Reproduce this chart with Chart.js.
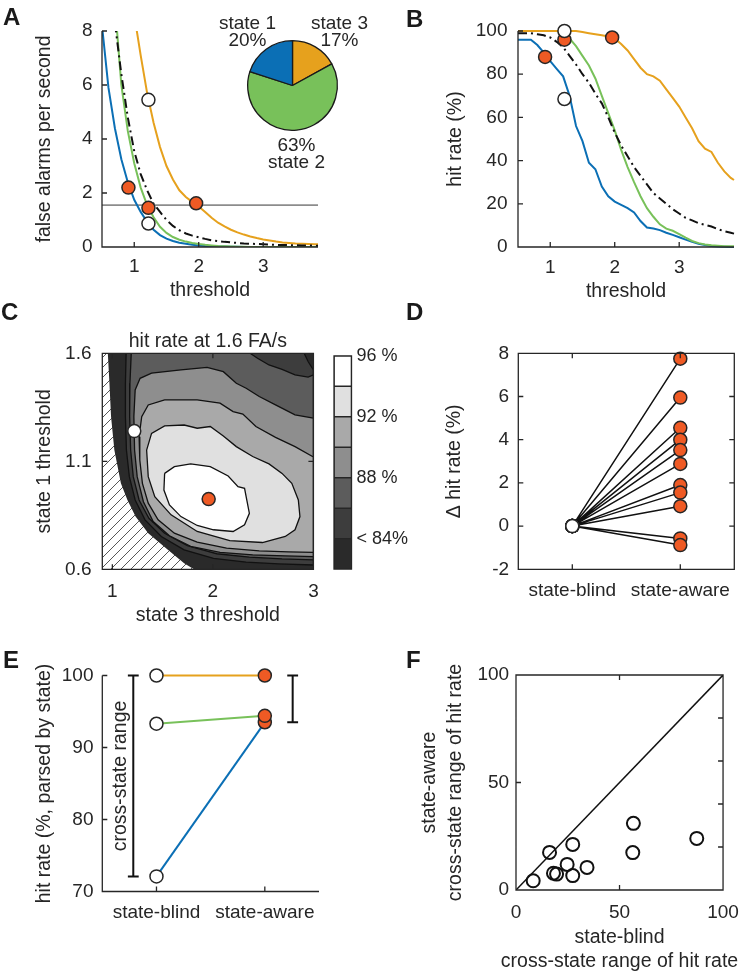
<!DOCTYPE html>
<html>
<head>
<meta charset="utf-8"/>
<script src="https://cdn.jsdelivr.net/npm/chart.js@4.4.1/dist/chart.umd.min.js"></script>
<style>
  body { margin: 0; background: #fff; }
  #fig { position: relative; width: 750px; height: 976px; overflow: hidden; font-family: "Liberation Sans", Arial, sans-serif; }
  #fig canvas { position: absolute; }
  .tag { position: absolute; font-size: 24px; line-height: 24px; font-weight: bold; color: #1a1a1a; }
</style>
</head>
<body>
<div id="fig">
  <canvas id="cA" width="375" height="305" style="left:0;top:0"></canvas>
  <canvas id="cB" width="375" height="305" style="left:375px;top:0"></canvas>
  <canvas id="cC" width="330" height="330" style="left:0;top:300px"></canvas>
  <canvas id="cBar" width="100" height="245" style="left:325px;top:340px"></canvas>
  <canvas id="cD" width="375" height="320" style="left:375px;top:300px"></canvas>
  <canvas id="cE" width="375" height="356" style="left:0;top:620px"></canvas>
  <canvas id="cF" width="375" height="356" style="left:375px;top:620px"></canvas>
  <canvas id="cPie" width="180" height="186" style="left:195px;top:0"></canvas>
  <div class="tag" style="left:3px;top:5px">A</div>
  <div class="tag" style="left:406px;top:7px">B</div>
  <div class="tag" style="left:1px;top:300px">C</div>
  <div class="tag" style="left:406px;top:300px">D</div>
  <div class="tag" style="left:3px;top:648px">E</div>
  <div class="tag" style="left:406px;top:648px">F</div>
</div>

<script>
// ---------- data ----------
// A + B: sweep of the detection threshold
const threshold = [0.5,0.6,0.7,0.8,0.9,1.0,1.1,1.2,1.3,1.4,1.5,1.6,1.7,1.8,1.9,2.0,2.1,2.2,2.3,2.4,2.5,2.6,2.7,2.8,2.9,3.0,3.1,3.2,3.3,3.4,3.5,3.6,3.7,3.8,3.85];
// false alarms per second (values above 8 run off the top of the axes)
const faState1 = [8.2,5.9,4.4,3.25,2.4,1.75,1.3,0.93,0.64,0.44,0.31,0.22,0.16,0.12,0.08,0.06,0.04,0.03,0.02,0.015,0.01,0.005,0,0,0,0,0,0,0,0,0,0,0,0,0];
const faState2 = [16,12,9,6.0,4.3,3.1,2.2,1.55,1.1,0.75,0.52,0.37,0.27,0.2,0.15,0.11,0.08,0.06,0.04,0.03,0.02,0.01,0.005,0,0,0,0,0,0,0,0,0,0,0,0];
const faState3 = [60,40,27,18,12,8.6,7.1,5.7,4.6,3.7,3.0,2.5,2.1,1.85,1.67,1.5,1.3,1.08,0.9,0.76,0.64,0.54,0.46,0.39,0.33,0.28,0.24,0.2,0.17,0.15,0.13,0.12,0.11,0.1,0.1];
const faAll    = [16,11,8.3,6.4,4.8,3.55,2.7,2.1,1.6,1.3,1.0,0.78,0.62,0.5,0.42,0.36,0.3,0.25,0.22,0.19,0.17,0.15,0.13,0.12,0.11,0.1,0.09,0.08,0.075,0.07,0.065,0.06,0.055,0.05,0.05];
const faTarget = 1.55;
const faBlindPts = [[1.22,5.45],[1.22,0.87]];
const faAwarePts = [[0.91,2.2],[1.22,1.45],[1.96,1.62]];
// hit rate (%)
const hitState1 = [96,96,96,93.5,90,86,82.5,79,70,56,49,39,36,28,23.5,21,19.5,18,16,12,9,8.6,7.8,6.6,5.6,4.5,3.4,2.4,1.5,0.9,0.5,0.2,0.1,0,0];
const hitState2 = [100,100,100,100,100,100,100,99,96.5,93,88.5,84,78,70,62,54,45,37,30,23.5,18,14,10.5,8.5,7.5,6,4.3,2.8,1.8,1.2,0.8,0.6,0.4,0.3,0.3];
const hitState3 = [100,100,100,100,100,100,100,100,100,100,99.5,99,98.5,98,97.5,96.5,94,91,87,83,80,79,77,73,69,65,60,55,49,45.5,44,39,35,32,31];
const hitAll    = [99,99,99,98.5,98,97,95,92.5,88.5,84.5,80,76,71,66.5,60,53,47,42,37,33,29,25,22.5,20,17.5,15.5,13.5,12.3,11,10.3,9.5,8.3,7.3,6.6,6.2];
const hitBlindPts = [[1.22,100],[1.22,68.5]];
const hitAwarePts = [[0.92,88],[1.22,96],[1.96,97]];
// pie: time spent in each state
const pieStates = ['state 3','state 2','state 1'];
const pieShare = [17,63,20];

// C: hit rate at 1.6 FA/s over (state 3 threshold, state 1 threshold)
const infeasible = [[0.9,1.6],[0.955,1.6],[0.971,1.461],[0.987,1.307],[1.02,1.152],[1.085,0.998],[1.15,0.921],[1.231,0.844],[1.357,0.767],[1.552,0.69],[1.714,0.628],[1.812,0.6],[0.9,0.6]];
const contour84 = [[1.137,1.6],[1.13,1.461],[1.13,1.307],[1.14,1.152],[1.169,1.029],[1.227,0.921],[1.325,0.829],[1.487,0.752],[1.714,0.69],[2.006,0.651],[2.331,0.633],[2.655,0.625],[3.0,0.62],[3.0,1.523],[2.947,1.562],[2.908,1.6]];
const contour86 = [[1.188,1.6],[1.175,1.461],[1.172,1.307],[1.182,1.152],[1.208,1.029],[1.266,0.921],[1.364,0.836],[1.52,0.767],[1.747,0.709],[2.039,0.672],[2.363,0.656],[2.688,0.648],[3.0,0.644],[3.0,1.5],[2.947,1.49],[2.817,1.5],[2.688,1.526],[2.558,1.546],[2.444,1.577],[2.37,1.6]];
const contour88 = [[3.0,1.3],[2.817,1.315],[2.623,1.361],[2.461,1.4],[2.331,1.438],[2.233,1.461],[2.104,1.515],[1.942,1.535],[1.682,1.523],[1.39,1.508],[1.276,1.484],[1.227,1.43],[1.214,1.307],[1.221,1.152],[1.247,1.029],[1.309,0.913],[1.406,0.821],[1.568,0.755],[1.779,0.706],[2.071,0.678],[2.396,0.667],[2.72,0.662],[3.0,0.659]];
const contour90 = [[3.0,1.12],[2.817,1.168],[2.623,1.211],[2.428,1.261],[2.298,1.319],[2.201,1.33],[2.071,1.369],[1.844,1.384],[1.52,1.384],[1.357,1.361],[1.292,1.307],[1.266,1.214],[1.273,1.106],[1.299,0.998],[1.357,0.906],[1.455,0.829],[1.617,0.767],[1.844,0.726],[2.136,0.698],[2.461,0.685],[2.753,0.681],[3.0,0.678]];
const contour92 = [[1.341,1.152],[1.39,1.229],[1.52,1.264],[1.714,1.268],[1.844,1.253],[1.974,1.261],[2.104,1.217],[2.233,1.168],[2.396,1.122],[2.558,1.088],[2.688,1.044],[2.785,0.998],[2.85,0.921],[2.866,0.844],[2.817,0.783],[2.72,0.752],[2.493,0.724],[2.168,0.733],[1.844,0.775],[1.584,0.852],[1.422,0.936],[1.357,1.029]];
const contour94 = [[1.52,1.044],[1.617,1.075],[1.779,1.088],[1.974,1.075],[2.152,1.032],[2.25,0.983],[2.315,0.975],[2.337,0.921],[2.363,0.859],[2.315,0.806],[2.201,0.775],[2.006,0.783],[1.844,0.803],[1.682,0.844],[1.568,0.898],[1.513,0.967]];
const cBlind = [1.218,1.24];
const cAware = [1.958,0.925];
const cbBounds = [82,84,86,88,90,92,94,96];
const cbTicks = [84,88,92,96];
const cbLabels = ['< 84%','88 %','92 %','96 %'];

// D: change in hit rate per subject
const groups = ['state-blind','state-aware'];
const dBlind = [0,0,0,0,0,0,0,0,0,0,0];
const dAware = [7.75,5.95,4.55,4.0,3.52,2.88,1.9,1.55,0.92,-0.57,-0.88];

// E: hit rate parsed by state (state 1, 2, 3)
const eBlind = [72.1,93.3,100];
const eAware = [93.5,94.4,100];

// F: cross-state range of hit rate per subject
const fBlind = [8.3,16.2,18.1,19.6,24.7,27.4,27.4,34.3,56.7,56.4,87.3];
const fAware = [4.3,17.5,7.8,7.4,11.9,21.2,6.7,10.5,31.0,17.4,24.0];

// ---------- style ----------
const ink = '#262626';
const blue = '#0b6fb5', green = '#78c15a', orange = '#e6a11d', aware = '#ef5a24';
const stateColor = [blue, green, orange];
const shade = ['#2a2a2a','#3d3d3d','#5c5c5c','#8e8e8e','#a9a9a9','#e0e0e0','#ffffff'];
const labelFont = '19.5px "Liberation Sans", Arial, sans-serif';

Chart.defaults.font.family = '"Liberation Sans", Arial, Helvetica, sans-serif';
Chart.defaults.font.size = 19;
Chart.defaults.color = ink;
Chart.defaults.animation = false;
Chart.defaults.events = [];
Chart.defaults.responsive = false;
Chart.defaults.plugins.legend.display = false;
Chart.defaults.plugins.tooltip.enabled = false;
Chart.defaults.elements.point.radius = 0;
Chart.defaults.elements.line.tension = 0;

// matlab-like axes: axis lines, optional box, inward ticks
const boxAxes = {
  id: 'boxAxes',
  beforeDatasetsDraw(chart, args, o) {
    if (!o.bg) return;
    const a = chart.chartArea;
    chart.ctx.save();
    chart.ctx.fillStyle = o.bg;
    chart.ctx.fillRect(a.left, a.top, a.right - a.left, a.bottom - a.top);
    chart.ctx.restore();
  },
  afterDatasetsDraw(chart, args, o) {
    const {ctx, chartArea: a} = chart;
    const sx = chart.scales.x, sy = chart.scales.y;
    const L = 5;
    ctx.save();
    ctx.strokeStyle = ink;
    ctx.lineWidth = 1.3;
    ctx.beginPath();
    if (o.box) {
      ctx.rect(a.left, a.top, a.right - a.left, a.bottom - a.top);
    } else {
      ctx.moveTo(a.left, a.top); ctx.lineTo(a.left, a.bottom); ctx.lineTo(a.right, a.bottom);
    }
    if (o.ticks !== false) {
      sx.ticks.forEach(t => {
        const p = sx.getPixelForValue(t.value);
        ctx.moveTo(p, a.bottom); ctx.lineTo(p, a.bottom - L);
        if (o.box) { ctx.moveTo(p, a.top); ctx.lineTo(p, a.top + L); }
      });
      sy.ticks.forEach(t => {
        const p = sy.getPixelForValue(t.value);
        ctx.moveTo(a.left, p); ctx.lineTo(a.left + L, p);
      });
      const right = o.rightTicks || (o.box ? sy.ticks.map(t => t.value) : []);
      right.forEach(v => {
        const p = sy.getPixelForValue(v);
        ctx.moveTo(a.right, p); ctx.lineTo(a.right - L, p);
      });
    }
    ctx.stroke();
    ctx.restore();
  }
};

// free text anchored to the plot area (title above, or lines below)
const areaText = {
  id: 'areaText',
  afterDraw(chart, args, o) {
    const {ctx, chartArea: a} = chart;
    ctx.save();
    ctx.font = labelFont;
    ctx.fillStyle = ink;
    ctx.textAlign = 'center';
    ctx.textBaseline = 'middle';
    o.lines.forEach(([text, dy]) => {
      const y = dy < 0 ? a.top + dy : a.bottom + dy;
      ctx.fillText(text, (a.left + a.right) / 2, y);
    });
    ctx.restore();
  }
};

// pie labels: name + share, offsets (px) from the pie centre
const pieLabelOffset = [[47,-57],[4,65],[-45,-57]];
const pieLabels = {
  id: 'pieLabels',
  afterDatasetsDraw(chart) {
    const {ctx} = chart;
    const arc = chart.getDatasetMeta(0).data[0];
    const ds = chart.data.datasets[0];
    ctx.save();
    ctx.font = '19px "Liberation Sans", Arial, sans-serif';
    ctx.fillStyle = ink;
    ctx.textAlign = 'center';
    ctx.textBaseline = 'alphabetic';
    chart.data.labels.forEach((name, i) => {
      const [dx, dy] = pieLabelOffset[i];
      const pct = ds.data[i] + '%';
      const lines = dy < 0 ? [name, pct] : [pct, name];
      lines.forEach((t, k) => ctx.fillText(t, arc.x + dx, arc.y + dy + k * 17));
    });
    ctx.restore();
  }
};

// E: position of the two range bars on the x axis
const rangeBlindX = 0.786, rangeAwareX = 2.257, capHalf = 0.05;
const rangeNote = {
  id: 'rangeNote',
  afterDatasetsDraw(chart) {
    const {ctx, scales: {x, y}} = chart;
    const px = x.getPixelForValue(rangeBlindX) - 13;
    const py = (y.getPixelForValue(Math.max(...eBlind)) + y.getPixelForValue(Math.min(...eBlind))) / 2;
    ctx.save();
    ctx.translate(px, py);
    ctx.rotate(-Math.PI / 2);
    ctx.font = labelFont;
    ctx.fillStyle = ink;
    ctx.textAlign = 'center';
    ctx.textBaseline = 'middle';
    ctx.fillText('cross-state range', 0, 0);
    ctx.restore();
  }
};

// ---------- helpers ----------
function axis(min, max, values, size, pad, title, fmt) {
  return {
    type: 'linear', min, max, bounds: 'data',
    grid: { display: false, drawTicks: false },
    border: { display: false },
    ticks: { autoSkip: false, maxRotation: 0, padding: pad, callback: fmt || (v => String(v)) },
    title: title || { display: false },
    afterBuildTicks: s => { s.ticks = values.map(v => ({ value: v })); },
    afterFit: s => { if (s.isHorizontal()) s.height = size; else s.width = size; }
  };
}
function label(text, pad, lh) {
  return { display: true, text, padding: pad, font: { size: 19.5, lineHeight: lh || 1.2 } };
}
function curve(xs, ys, color, dash, order, clip) {
  const ds = { data: xs.map((x, i) => ({ x, y: ys[i] })), borderColor: color, borderWidth: 2,
               borderDash: dash || [], pointRadius: 0, fill: false, order };
  if (clip === false) ds.clip = false;
  return ds;
}
function markers(pts, fill, order, r) {
  return { data: pts.map(([x, y]) => ({ x, y })), showLine: false, pointRadius: r || 6.5,
           pointBackgroundColor: fill, pointBorderColor: ink, pointBorderWidth: 1.5, clip: false, order };
}
function region(pts, color, order, line) {
  const closed = pts.concat([pts[0]]);
  return { data: closed.map(([x, y]) => ({ x, y })), fill: 'shape', backgroundColor: color,
           borderColor: line ? '#111' : 'rgba(0,0,0,0)', borderWidth: 1.3, pointRadius: 0, order };
}
function hatchPattern() {
  const c = document.createElement('canvas');
  c.width = 10; c.height = 10;
  const g = c.getContext('2d');
  g.fillStyle = '#fff'; g.fillRect(0, 0, 10, 10);
  g.strokeStyle = '#444'; g.lineWidth = 0.9;
  g.beginPath();
  g.moveTo(0, 10); g.lineTo(10, 0);
  g.moveTo(-1, 1); g.lineTo(1, -1);
  g.moveTo(9, 11); g.lineTo(11, 9);
  g.stroke();
  return g.createPattern(c, 'repeat');
}
function rangeBar(x, lo, hi) {
  return [
    { x: x - capHalf, y: hi }, { x: x + capHalf, y: hi }, { x: x, y: null },
    { x: x, y: hi }, { x: x, y: lo }, { x: x, y: null },
    { x: x - capHalf, y: lo }, { x: x + capHalf, y: lo }
  ];
}

// ---------- A ----------
new Chart(document.getElementById('cA'), {
  type: 'line',
  data: { datasets: [
    markers(faBlindPts, '#fff', 0),
    markers(faAwarePts, aware, 0),
    curve(threshold, faAll, '#111', [9, 4, 2, 4], 1),
    curve(threshold, faState3, orange, null, 2),
    curve(threshold, faState2, green, null, 2),
    curve(threshold, faState1, blue, null, 2),
    { data: [{ x: 0.5, y: faTarget }, { x: 3.85, y: faTarget }], borderColor: '#8c8c8c', borderWidth: 1.6, order: 3 }
  ]},
  options: {
    layout: { padding: { top: 31, right: 57, left: 0, bottom: 0 } },
    scales: {
      x: axis(0.5, 3.85, [1, 2, 3], 58, 8.3, label('threshold', { top: 0, bottom: 2.3 })),
      y: axis(0, 8, [0, 2, 4, 6, 8], 102, 9.5, label('false alarms per second', { top: 33.3, bottom: 0 }))
    },
    plugins: { boxAxes: { box: false } }
  },
  plugins: [boxAxes]
});

// pie inset
new Chart(document.getElementById('cPie'), {
  type: 'pie',
  data: { labels: pieStates, datasets: [{ data: pieShare, backgroundColor: [orange, green, blue], borderColor: '#1a1a1a', borderWidth: 1.3 }] },
  options: { layout: { padding: { left: 52, right: 37, top: 40, bottom: 55 } } },
  plugins: [pieLabels]
});

// ---------- B ----------
new Chart(document.getElementById('cB'), {
  type: 'line',
  data: { datasets: [
    markers(hitBlindPts, '#fff', 0),
    markers(hitAwarePts, aware, 0),
    curve(threshold, hitAll, '#111', [9, 4, 2, 4], 1, false),
    curve(threshold, hitState3, orange, null, 2, false),
    curve(threshold, hitState2, green, null, 2, false),
    curve(threshold, hitState1, blue, null, 2, false)
  ]},
  options: {
    layout: { padding: { top: 31, right: 16, left: 0, bottom: 0 } },
    scales: {
      x: axis(0.5, 3.85, [1, 2, 3], 58, 9, label('threshold', { top: 0, bottom: 1.5 })),
      y: axis(0, 100, [0, 20, 40, 60, 80, 100], 143, 10.5, label('hit rate (%)', { top: 68.8, bottom: 0 }))
    },
    plugins: { boxAxes: { box: false } }
  },
  plugins: [boxAxes]
});

// ---------- C ----------
new Chart(document.getElementById('cC'), {
  type: 'line',
  data: { datasets: [
    region(infeasible, hatchPattern(), 20, false),
    region(contour84, shade[1], 19, true),
    region(contour86, shade[2], 18, true),
    region(contour88, shade[3], 17, true),
    region(contour90, shade[4], 16, true),
    region(contour92, shade[5], 15, true),
    region(contour94, shade[6], 14, true),
    markers([cBlind], '#fff', 0),
    markers([cAware], aware, 0)
  ]},
  options: {
    layout: { padding: { top: 53.3, right: 11, left: 0, bottom: 0 } },
    scales: {
      x: axis(0.9, 3, [1, 2, 3], 60.7, 11.3, label('state 3 threshold', { top: 0, bottom: 2.3 })),
      y: axis(0.6, 1.6, [0.6, 1.1, 1.6], 102.3, 10.8, label('state 1 threshold', { top: 33.3, bottom: 0 }))
    },
    plugins: { boxAxes: { box: true, bg: shade[0] }, areaText: { lines: [['hit rate at 1.6 FA/s', -11.8]] } }
  },
  plugins: [boxAxes, areaText]
});

// colour bar
const cbY = axis(82, 96, cbTicks, 73.5, 5, null, v => cbLabels[cbTicks.indexOf(v)]);
cbY.position = 'right';
cbY.ticks.font = { size: 18 };
new Chart(document.getElementById('cBar'), {
  type: 'bar',
  data: {
    labels: [''],
    datasets: cbBounds.slice(0, -1).map((lo, i) => ({
      data: [[lo, cbBounds[i + 1]]], backgroundColor: shade[i], borderColor: ink, borderWidth: 1,
      borderSkipped: false, grouped: false, barPercentage: 1, categoryPercentage: 1
    }))
  },
  options: {
    layout: { padding: { top: 14, right: 0, left: 9, bottom: 15 } },
    scales: { x: { type: 'category', display: false }, y: cbY },
    plugins: { boxAxes: { box: true, ticks: false } }
  },
  plugins: [boxAxes]
});

// ---------- D ----------
const dLinks = [];
dAware.forEach((v, i) => dLinks.push({ x: 1, y: dBlind[i] }, { x: 2, y: v }));
new Chart(document.getElementById('cD'), {
  type: 'line',
  data: { datasets: [
    { data: dLinks, borderColor: '#111', borderWidth: 1.5, order: 2 },
    markers(dAware.map(v => [2, v]), aware, 1),
    markers(dBlind.map(v => [1, v]), '#fff', 0)
  ]},
  options: {
    layout: { padding: { top: 53.3, right: 15.7, left: 0, bottom: 0 } },
    scales: {
      x: axis(0.5, 2.5, [1, 2], 50.7, 10.3, null, v => groups[v - 1] || ''),
      y: axis(-2, 8, [-2, 0, 2, 4, 6, 8], 143.3, 9.2, label('\u0394 hit rate (%)', { top: 68.3, bottom: 0 }))
    },
    plugins: { boxAxes: { box: true } }
  },
  plugins: [boxAxes]
});

// ---------- E ----------
const eSets = [];
eBlind.forEach((b, i) => eSets.push({ data: [{ x: 1, y: b }, { x: 2, y: eAware[i] }], borderColor: stateColor[i], borderWidth: 2, clip: false, order: 3 }));
eSets.push({ data: rangeBar(rangeBlindX, Math.min(...eBlind), Math.max(...eBlind)), borderColor: '#111', borderWidth: 2, spanGaps: false, clip: false, order: 2 });
eSets.push({ data: rangeBar(rangeAwareX, Math.min(...eAware), Math.max(...eAware)), borderColor: '#111', borderWidth: 2, spanGaps: false, clip: false, order: 2 });
eSets.push(markers(eBlind.map(v => [1, v]), '#fff', 0));
eSets.push(markers(eAware.map(v => [2, v]), aware, 0));
new Chart(document.getElementById('cE'), {
  type: 'line',
  data: { datasets: eSets },
  options: {
    layout: { padding: { top: 55.5, right: 56, left: 0, bottom: 0 } },
    scales: {
      x: axis(0.5, 2.5, [1, 2], 84.5, 9.6, null, v => groups[v - 1] || ''),
      y: axis(70, 100, [70, 80, 90, 100], 102.3, 8.8, label('hit rate (%, parsed by state)', { top: 33.3, bottom: 0 }))
    },
    plugins: { boxAxes: { box: false } }
  },
  plugins: [boxAxes, rangeNote]
});

// ---------- F ----------
new Chart(document.getElementById('cF'), {
  type: 'line',
  data: { datasets: [
    { data: [{ x: 0, y: 0 }, { x: 100, y: 100 }], borderColor: '#111', borderWidth: 1.5, order: 1 },
    { data: fBlind.map((x, i) => ({ x, y: fAware[i] })), showLine: false, pointRadius: 6.5,
      pointBackgroundColor: 'rgba(0,0,0,0)', pointBorderColor: '#111', pointBorderWidth: 2, clip: false, order: 0 }
  ]},
  options: {
    layout: { padding: { top: 55, right: 18.3, left: 0, bottom: 0 } },
    scales: {
      x: axis(0, 100, [0, 50, 100], 86, 11.1, null),
      y: axis(0, 100, [0, 50, 100], 141, 6.9, label(['state-aware', 'cross-state range of hit rate'], { top: 42.25, bottom: 0 }, 1.31))
    },
    plugins: {
      boxAxes: { box: true, rightTicks: [20, 40, 60, 80] },
      areaText: { lines: [['state-blind', 48], ['cross-state range of hit rate', 72]] }
    }
  },
  plugins: [boxAxes, areaText]
});
</script>
</body>
</html>
